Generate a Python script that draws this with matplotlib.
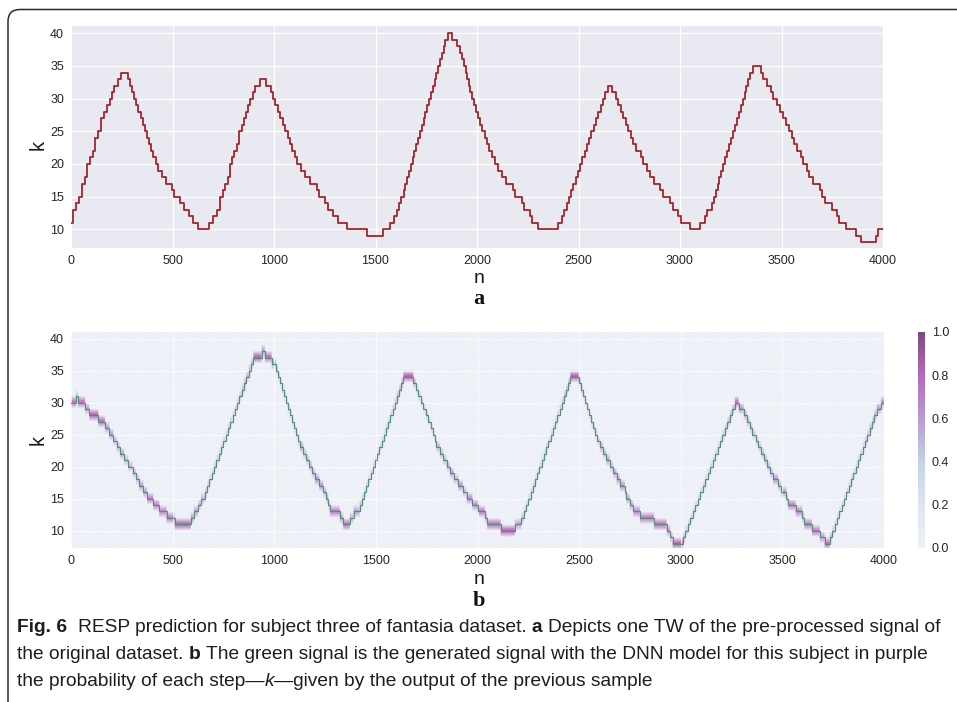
import numpy as np
import matplotlib
matplotlib.use('Agg')
import matplotlib.pyplot as plt
from matplotlib.colors import LinearSegmentedColormap
from matplotlib.patches import FancyBboxPatch
from matplotlib.transforms import IdentityTransform
from matplotlib import font_manager

# ---- panel a: pre-processed signal (step start n, level k)
top_n = [0, 12, 26, 40, 53, 67, 80, 93, 106, 120, 133, 146, 164, 178, 192, 204, 213, 233, 246,
         282, 292, 302, 312, 322, 332, 343, 353, 364, 374, 385, 396, 406, 417, 430, 447, 468, 496, 509, 537, 557, 583, 603, 627,
         681, 701, 718, 734, 748, 760, 771, 782, 794, 805, 816, 828, 840, 851, 862, 873, 884, 895, 906, 931, 959,
         983, 995, 1007, 1019, 1031, 1043, 1055, 1067, 1079, 1091, 1103, 1115, 1131, 1152, 1177, 1210, 1222, 1250, 1268, 1292, 1317, 1358, 1458,
         1535, 1571, 1591, 1604, 1617, 1628, 1638, 1647, 1656, 1665, 1674, 1683, 1692, 1701, 1710, 1719, 1728, 1737, 1746, 1755, 1764, 1773, 1782, 1791, 1800, 1808, 1817, 1826, 1835, 1843, 1859, 1879,
         1900, 1916, 1926, 1935, 1944, 1952, 1960, 1967, 1974, 1985, 1995, 2005, 2015, 2026, 2037, 2048, 2061, 2074, 2088, 2105, 2121, 2145, 2178, 2187, 2220, 2232, 2261, 2269, 2302,
         2397, 2417, 2430, 2441, 2452, 2463, 2474, 2486, 2497, 2508, 2519, 2530, 2542, 2553, 2564, 2575, 2586, 2598, 2609, 2620, 2631, 2647, 2667,
         2684, 2696, 2708, 2721, 2732, 2745, 2757, 2770, 2784, 2806, 2819, 2839, 2852, 2872, 2901, 2918, 2951, 2967, 2989, 3003, 3049,
         3098, 3123, 3135, 3156, 3166, 3175, 3185, 3194, 3204, 3213, 3223, 3232, 3242, 3251, 3261, 3270, 3280, 3289, 3299, 3308, 3318, 3327, 3336, 3345, 3361, 3397,
         3410, 3427, 3447, 3460, 3476, 3493, 3506, 3522, 3539, 3550, 3562, 3578, 3594, 3607, 3627, 3637, 3657, 3690, 3698, 3714, 3750, 3771, 3785, 3818, 3867, 3890, 3966, 3977]
top_k = [11, 13, 14, 15, 17, 18, 20, 21, 22, 24, 25, 27, 28, 29, 30, 31, 32, 33, 34,
         33, 32, 31, 30, 29, 28, 27, 26, 25, 24, 23, 22, 21, 20, 19, 18, 17, 16, 15, 14, 13, 12, 11, 10,
         11, 12, 13, 15, 16, 17, 18, 20, 21, 22, 23, 25, 26, 27, 28, 29, 30, 31, 32, 33, 32,
         31, 30, 29, 28, 27, 26, 25, 24, 23, 22, 21, 20, 19, 18, 17, 16, 15, 14, 13, 12, 11, 10, 9,
         10, 11, 12, 13, 14, 15, 16, 17, 18, 19, 20, 21, 22, 23, 24, 25, 26, 27, 28, 29, 30, 31, 32, 33, 34, 35, 36, 37, 38, 39, 40, 39,
         38, 37, 36, 35, 34, 33, 32, 31, 30, 29, 28, 27, 26, 25, 24, 23, 22, 21, 20, 19, 18, 17, 16, 15, 14, 13, 12, 11, 10,
         11, 12, 13, 14, 15, 16, 17, 18, 19, 20, 21, 22, 23, 24, 25, 26, 27, 28, 29, 30, 31, 32, 31,
         30, 29, 28, 27, 26, 25, 24, 23, 22, 21, 20, 19, 18, 17, 16, 15, 14, 13, 12, 11, 10,
         11, 12, 13, 14, 15, 16, 17, 18, 19, 20, 21, 22, 23, 24, 25, 26, 27, 28, 29, 30, 31, 32, 33, 34, 35, 34,
         33, 32, 31, 30, 29, 28, 27, 26, 25, 24, 23, 22, 21, 20, 19, 18, 17, 16, 15, 14, 13, 12, 11, 10, 9, 8, 9, 10]

# ---- panel b: generated signal (step start n, level k) and probability of that step
bot_n = [0, 25, 33, 69, 90, 134, 167, 189, 208, 225, 241, 261, 282, 303, 320, 336, 356, 375, 405, 434, 470, 510, 589, 605, 626, 639,
         659, 670, 681, 693, 704, 715, 727, 738, 749, 761, 772, 783, 795, 806, 817, 829, 840, 851, 863, 874, 885, 897, 938, 954, 987,
         1008, 1018, 1028, 1038, 1048, 1058, 1067, 1077, 1087, 1097, 1107, 1117, 1126, 1143, 1158, 1172, 1186, 1200, 1221, 1241, 1257, 1266, 1274, 1323, 1339, 1372, 1390,
         1420, 1431, 1442, 1452, 1463, 1474, 1485, 1495, 1506, 1517, 1528, 1538, 1549, 1560, 1571, 1582, 1592, 1603, 1614, 1625, 1635, 1684,
         1697, 1709, 1721, 1733, 1745, 1757, 1769, 1780, 1790, 1798, 1815, 1832, 1848, 1864, 1882, 1905, 1928, 1946, 1975, 2003, 2036, 2048, 2114, 2184,
         2216, 2228, 2239, 2250, 2261, 2272, 2283, 2294, 2305, 2316, 2327, 2338, 2349, 2360, 2371, 2382, 2393, 2404, 2414, 2425, 2436, 2446, 2457, 2498,
         2508, 2518, 2528, 2538, 2548, 2558, 2568, 2578, 2590, 2602, 2618, 2634, 2651, 2668, 2684, 2700, 2725, 2733, 2749, 2766, 2800, 2868, 2930, 2948, 2960,
         3011, 3023, 3035, 3047, 3059, 3072, 3084, 3096, 3108, 3120, 3132, 3145, 3157, 3169, 3181, 3193, 3205, 3218, 3230, 3242, 3254, 3266, 3285,
         3310, 3324, 3339, 3353, 3368, 3382, 3396, 3411, 3425, 3440, 3454, 3479, 3495, 3520, 3528, 3565, 3598, 3608, 3645, 3684, 3708,
         3733, 3745, 3757, 3768, 3780, 3791, 3803, 3814, 3826, 3837, 3849, 3860, 3872, 3883, 3895, 3906, 3918, 3929, 3941, 3952, 3964, 3985]
bot_k = [30, 31, 30, 29, 28, 27, 26, 25, 24, 23, 22, 21, 20, 19, 18, 17, 16, 15, 14, 13, 12, 11, 12, 13, 14, 15,
         16, 17, 18, 19, 20, 21, 22, 23, 24, 25, 26, 27, 28, 29, 30, 31, 32, 33, 34, 35, 36, 37, 38, 37, 36,
         35, 34, 33, 32, 31, 30, 29, 28, 27, 26, 25, 24, 23, 22, 21, 20, 19, 18, 17, 16, 15, 14, 13, 12, 11, 12, 13,
         14, 15, 16, 17, 18, 19, 20, 21, 22, 23, 24, 25, 26, 27, 28, 29, 30, 31, 32, 33, 34, 33,
         32, 31, 30, 29, 28, 27, 26, 25, 24, 23, 22, 21, 20, 19, 18, 17, 16, 15, 14, 13, 12, 11, 10, 11,
         12, 13, 14, 15, 16, 17, 18, 19, 20, 21, 22, 23, 24, 25, 26, 27, 28, 29, 30, 31, 32, 33, 34, 33,
         32, 31, 30, 29, 28, 27, 26, 25, 24, 23, 22, 21, 20, 19, 18, 17, 16, 15, 14, 13, 12, 11, 10, 9, 8,
         9, 10, 11, 12, 13, 14, 15, 16, 17, 18, 19, 20, 21, 22, 23, 24, 25, 26, 27, 28, 29, 30, 29,
         28, 27, 26, 25, 24, 23, 22, 21, 20, 19, 18, 17, 16, 15, 14, 13, 12, 11, 10, 9, 8,
         9, 10, 11, 12, 13, 14, 15, 16, 17, 18, 19, 20, 21, 22, 23, 24, 25, 26, 27, 28, 29, 30]
bot_p = [.8, .5, .8, .6, .85, .8, .6, .6, .5, .5, .6, .5, .5, .5, .5, .6, .6, .7, .7, .7, .75, .85, .6, .6, .5, .5,
         .5, .4, .4, .4, .45, .4, .4, .4, .4, .4, .45, .4, .4, .4, .4, .45, .5, .5, .55, .5, .5, .85, .6, .8, .6,
         .5, .45, .4, .4, .4, .4, .4, .4, .4, .4, .4, .45, .6, .5, .5, .55, .5, .65, .65, .5, .6, .5, .75, .6, .8, .55, .6,
         .5, .45, .4, .4, .4, .4, .4, .4, .4, .4, .4, .4, .4, .4, .4, .45, .45, .5, .5, .55, .85, .55,
         .45, .4, .4, .4, .4, .4, .4, .4, .4, .55, .5, .5, .5, .6, .5, .65, .5, .65, .65, .75, .5, .8, .85, .6,
         .5, .45, .4, .4, .4, .4, .4, .4, .4, .4, .4, .4, .4, .4, .4, .4, .4, .45, .45, .5, .5, .55, .85, .55,
         .45, .4, .4, .4, .4, .4, .4, .4, .45, .55, .5, .6, .5, .6, .6, .65, .5, .6, .55, .7, .75, .8, .6, .55, .85,
         .5, .45, .4, .4, .4, .4, .4, .4, .4, .4, .4, .4, .4, .4, .4, .4, .45, .45, .5, .5, .55, .8, .6,
         .55, .5, .45, .45, .45, .45, .5, .5, .5, .5, .65, .5, .65, .5, .7, .7, .5, .75, .75, .6, .8,
         .5, .45, .4, .4, .4, .4, .4, .4, .4, .4, .4, .4, .4, .4, .4, .45, .45, .5, .5, .55, .6, .65]

n_end = 4000
k_rows = (7, 41)
x_ticks = [0, 500, 1000, 1500, 2000, 2500, 3000, 3500, 4000]
y_ticks = [10, 15, 20, 25, 30, 35, 40]
cb_ticks = [0.0, 0.2, 0.4, 0.6, 0.8, 1.0]

W, H = 957, 702
fig = plt.figure(figsize=(W / 100, H / 100), dpi=100)
fig.patch.set_facecolor('white')


def rect(l, t, r, b):
    return [l / W, 1 - b / H, (r - l) / W, (b - t) / H]


tick_font = 'Liberation Sans'


def style_axes(ax, face):
    ax.set_facecolor(face)
    for s in ax.spines.values():
        s.set_visible(False)
    ax.set_xlim(0, n_end)
    ax.set_xticks(x_ticks)
    ax.set_yticks(y_ticks)
    ax.grid(True, color='white', lw=0.9)
    ax.tick_params(length=0, labelsize=9, labelcolor='#262626', pad=5)
    for lab in ax.get_xticklabels() + ax.get_yticklabels():
        lab.set_fontfamily(tick_font)


# panel a
ax1 = fig.add_axes(rect(71, 26, 883, 248))
style_axes(ax1, '#e9e9f1')
ax1.set_axisbelow(True)
ax1.step(top_n + [n_end], top_k + [top_k[-1]], where='post', color='#a3242b', lw=1.3)
ax1.set_ylim(7.14, 41.12)

# panel b
ax2 = fig.add_axes(rect(71, 332, 884, 548))
style_axes(ax2, '#eef1f7')
cmap = LinearSegmentedColormap.from_list(
    'resp', [(0.0, '#eef1f7'), (0.2, '#dfe5ef'), (0.4, '#c3d2e6'),
             (0.6, '#b69bd3'), (0.8, '#b968bb'), (1.0, '#7b4a7f')])
prob = np.zeros((k_rows[1] - k_rows[0] + 1, n_end))
edges = bot_n + [n_end]
for i in range(len(bot_n)):
    prob[bot_k[i] - k_rows[0], edges[i]:edges[i + 1]] = bot_p[i]
im = ax2.imshow(prob, extent=[0, n_end, k_rows[0] - 0.5, k_rows[1] + 0.5], origin='lower',
                aspect='auto', cmap=cmap, vmin=0, vmax=1, interpolation='bilinear', zorder=0)
ax2.grid(True, color='white', lw=0.8, alpha=0.7)
ax2.step(bot_n + [n_end], bot_k + [bot_k[-1]], where='post', color='#5a8c7c', lw=0.8, zorder=3)
ax2.set_xlim(0, n_end)
ax2.set_ylim(7.3, 41.03)

cax = fig.add_axes(rect(918, 332, 925, 548))
cb = fig.colorbar(im, cax=cax, ticks=cb_ticks)
cb.outline.set_visible(False)
cb.ax.tick_params(length=0, labelsize=9, labelcolor='#262626', pad=5)
cb.ax.set_yticklabels(['%.1f' % t for t in cb_ticks], fontfamily=tick_font)

# axis labels and panel letters
for y in (145, 440):
    fig.text(38.5 / W, 1 - y / H, 'k', rotation=90, fontsize=14.5, family=tick_font,
             ha='center', va='center', color='#1a1a1a')
for y in (279, 579):
    fig.text(479 / W, 1 - y / H, 'n', fontsize=14, family=tick_font,
             ha='center', va='center', color='#1a1a1a')
fig.text(479 / W, 1 - 299 / H, 'a', fontsize=16, family='Liberation Serif', weight='bold',
         ha='center', va='center', color='#111111')
fig.text(479 / W, 1 - 601 / H, 'b', fontsize=16, family='Liberation Serif', weight='bold',
         ha='center', va='center', color='#111111')

# rounded frame around figure + caption
frame = FancyBboxPatch((8, -40), 1100, H - 9.5 + 40, boxstyle='round,pad=0,rounding_size=12',
                       transform=IdentityTransform(), fill=False, edgecolor='#2a2a2a', lw=1.1)
fig.add_artist(frame)

# caption
cap_family = 'Liberation Sans'
try:
    font_manager.findfont(font_manager.FontProperties(family='Liberation Sans Narrow'),
                          fallback_to_default=False)
    cap_family = 'Liberation Sans Narrow'
except Exception:
    pass

renderer = fig.canvas.get_renderer()


def width_of(txt, size, **kw):
    t = fig.text(0, 0, txt, fontsize=size, family=cap_family, **kw)
    w = t.get_window_extent(renderer).width
    t.remove()
    return w


line1 = [('Fig. 6', 'bold', 'normal'), ('', None, None),
         ('RESP prediction for subject three of fantasia dataset.', 'normal', 'normal'),
         ('a', 'bold', 'normal'), ('Depicts one TW of the pre-processed signal of', 'normal', 'normal')]
line2 = [('the original dataset.', 'normal', 'normal'), ('b', 'bold', 'normal'),
         ('The green signal is the generated signal with the DNN model for this subject in purple', 'normal', 'normal')]
line3 = [('the probability of each step\u2014', 'normal', 'normal'), ('k', 'normal', 'italic'),
         ('\u2014given by the output of the previous sample', 'normal', 'normal')]


def draw_line(pieces, x0, y, size, measure=False):
    space = width_of('x x', size) - width_of('xx', size)
    x = x0
    for i, (txt, wt, st) in enumerate(pieces):
        if txt == '':
            x += space
            continue
        if i > 0 and not txt.startswith('\u2014') and not pieces[i - 1][0].endswith('\u2014'):
            x += space
        if measure:
            x += width_of(txt, size, weight=wt, style=st)
        else:
            t = fig.text(x / W, 1 - y / H, txt, fontsize=size, family=cap_family, weight=wt,
                         style=st, ha='left', va='center', color='#1e1c1c')
            x += t.get_window_extent(renderer).width
    return x


base = 10.0
w1 = draw_line(line1, 0, 0, base, measure=True)
cap_size = base * (946 - 17) / w1
draw_line(line1, 17, 628, cap_size)
draw_line(line2, 17, 654.5, cap_size)
draw_line(line3, 17, 681, cap_size)

fig.savefig('out.png', dpi=100)
